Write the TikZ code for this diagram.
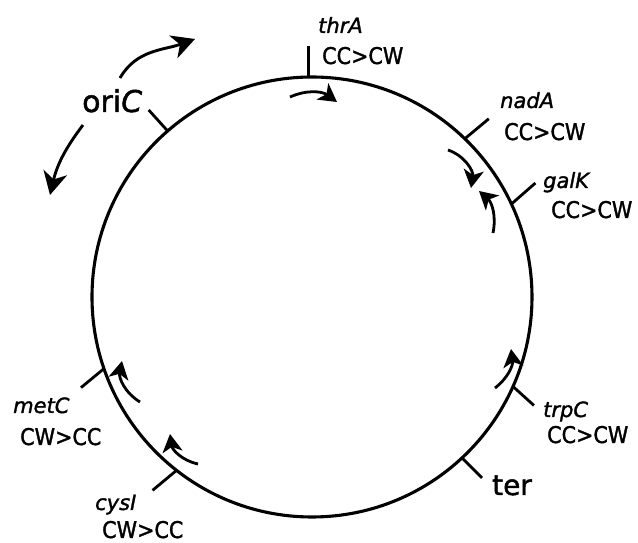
\documentclass[tikz,border=0pt]{standalone}
\usepackage{fontspec}
\setmainfont{DejaVu Sans}[FakeBold=1.5]
\newfontfamily\condfont{DejaVu Sans}[FakeStretch=0.9,FakeBold=1.5]
\usetikzlibrary{arrows.meta}
\begin{document}
\begin{tikzpicture}[x=1pt,y=1pt,
  ring/.style={line width=3.1pt},
  tickline/.style={line width=2.8pt},
  arr/.style={line width=2.8pt, -{Stealth[length=18pt,width=20pt,inset=5pt]}},
  bigarr/.style={line width=2.9pt, -{Stealth[length=23pt,width=24pt,inset=7pt]}},
  gene/.style={font=\fontsize{21}{21}\selectfont\itshape, anchor=base west, inner sep=0pt},
  ratio/.style={font=\condfont\fontsize{23}{23}\selectfont, anchor=base west, inner sep=0pt},
  big/.style={font=\fontsize{30}{30}\selectfont, anchor=base west, inner sep=0pt}]
\useasboundingbox (-312,-246) rectangle (326,297);
\node[circle, minimum size=440pt, draw, ring, inner sep=0pt, outer sep=0pt] (chrom) at (0,0) {};
% ticks
\draw[tickline] (chrom.91) -- ++(0,31) coordinate (thrT);
\draw[tickline] (chrom.46) -- ++(24,20) coordinate (nadT);
\draw[tickline] (chrom.25) -- ++(24,21) coordinate (galT);
\draw[tickline] (chrom.131) -- ++(-19,21) coordinate (oriT);
\draw[tickline] (chrom.199) -- ++(-23,-19) coordinate (metT);
\draw[tickline] (chrom.232) -- ++(-24,-20) coordinate (cysT);
\draw[tickline] (chrom.336.5) -- ++(21,-19) coordinate (trpT);
\draw[tickline] (chrom.313) -- ++(20,-20) coordinate (terT);
% labels
\node[gene] (thrAname) at (6,264) {thrA};
\node[ratio] (thrAratio) at (10,233) {CC>CW};
\node[gene] (nadAname) at (188,189) {nadA};
\node[ratio] (nadAratio) at (192,157) {CC>CW};
\node[gene] (galKname) at (231,109) {galK};
\node[ratio] (galKratio) at (239,79) {CC>CW};
\node[big] (ori) at (-230,185) {ori\textit{C}};
\node[gene] (metCname) at (-299,-116) {metC};
\node[ratio] (metCratio) at (-292,-148) {CW>CC};
\node[gene] (cysIname) at (-217,-213) {cysI};
\node[ratio] (cysIratio) at (-210,-241) {CW>CC};
\node[gene] (trpCname) at (231,-120) {trpC};
\node[ratio] (trpCratio) at (235,-146) {CC>CW};
\node[font=\fontsize{28}{28}\selectfont, anchor=base west, inner sep=0pt] (ter) at (180,-198) {ter};
% small arrows
\coordinate (thrS) at (-22,200); \coordinate (thrE) at (25,195);
\coordinate (nadS) at (136,147); \coordinate (nadE) at (159,109);
\coordinate (galS) at (181,64); \coordinate (galE) at (167,106);
\coordinate (trpS) at (183,-91); \coordinate (trpE) at (199,-52);
\coordinate (metS) at (-172,-105); \coordinate (metE) at (-190,-64);
\coordinate (cysS) at (-114,-167); \coordinate (cysE) at (-142,-137);
\draw[arr] (thrS) to[bend left=30] (thrE);
\draw[arr] (nadS) to[bend left=40] (nadE);
\draw[arr] (galS) to[bend right=30] (galE);
\draw[arr] (trpS) to[bend right=30] (trpE);
\draw[arr] (metS) to[bend left=35] (metE);
\draw[arr] (cysS) to[bend left=35] (cysE);
% oriC arrows
\coordinate (oriUS) at (-192,219); \coordinate (oriUE) at (-117,258);
\coordinate (oriLS) at (-229,172); \coordinate (oriLE) at (-262,102);
\draw[bigarr] (oriUS) to[out=60, in=200] (oriUE);
\draw[bigarr] (oriLS) to[bend right=12] (oriLE);
\end{tikzpicture}
\end{document}
